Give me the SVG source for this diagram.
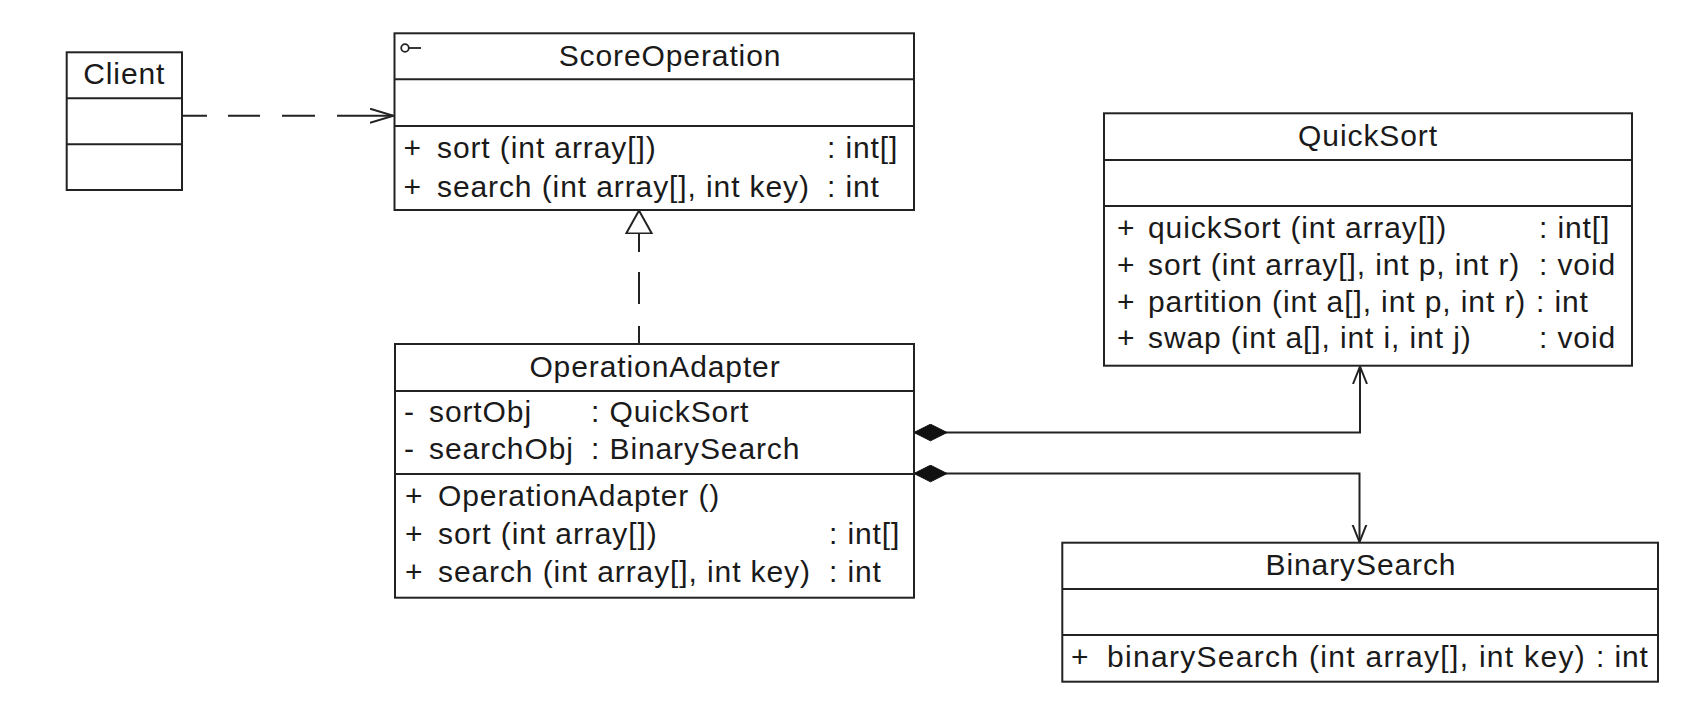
<svg xmlns="http://www.w3.org/2000/svg" width="1684" height="704" viewBox="0 0 1684 704">
<style>
  .box{fill:#fff;stroke:#222;stroke-width:2}
  .div{stroke:#222;stroke-width:2}
  text{font-family:"Liberation Sans",Arial,sans-serif;font-size:30px;letter-spacing:0.9px;fill:#1a1a1a}
  .t{text-anchor:middle}
  .wide{letter-spacing:1.3px}
  .conn{fill:none;stroke:#222;stroke-width:2}
</style>
<defs>
  <marker id="depArrow" markerUnits="userSpaceOnUse" markerWidth="26" markerHeight="18" refX="23.5" refY="8" orient="auto" viewBox="0 0 26 18">
    <path d="M0 1 L23.5 8 L0 15" fill="none" stroke="#222" stroke-width="2"/>
  </marker>
  <marker id="navArrow" markerUnits="userSpaceOnUse" markerWidth="20" markerHeight="18" refX="17.5" refY="8" orient="auto" viewBox="0 0 20 18">
    <path d="M0 1 L17.5 8 L0 15" fill="none" stroke="#222" stroke-width="2"/>
  </marker>
  <marker id="realize" markerUnits="userSpaceOnUse" markerWidth="26" markerHeight="30" refX="23.5" refY="14" orient="auto" viewBox="0 0 26 30">
    <path d="M0.5 1.2 L23.5 14 L0.5 26.8 Z" fill="#fff" stroke="#222" stroke-width="2"/>
  </marker>
  <marker id="diamond" markerUnits="userSpaceOnUse" markerWidth="36" markerHeight="20" refX="0" refY="9" orient="auto" viewBox="0 0 36 20">
    <path d="M0 9 L16.5 0.7 L33 9 L16.5 17.3 Z" fill="#111" stroke="#111" stroke-width="1"/>
  </marker>
</defs>
<rect width="1684" height="704" fill="#fff"/>

<g id="connectors">
  <path class="conn" d="M183 115.7 H393.5" stroke-dasharray="24 21 32 22 33 22 80" marker-end="url(#depArrow)"/>
  <path class="conn" d="M639 344 V210.5" stroke-dasharray="18 22 32 20 80" marker-end="url(#realize)"/>
  <path class="conn" d="M914 432.5 H1360 V366.5" marker-start="url(#diamond)" marker-end="url(#navArrow)"/>
  <path class="conn" d="M914 473.5 H1359.5 V542" marker-start="url(#diamond)" marker-end="url(#navArrow)"/>
</g>

<g id="Client">
  <rect class="box" x="66.7" y="52.3" width="115.3" height="137.7"/>
  <line class="div" x1="66.7" y1="98.3" x2="182" y2="98.3"/>
  <line class="div" x1="66.7" y1="144.3" x2="182" y2="144.3"/>
  <text class="t" x="124.3" y="84">Client</text>
</g>

<g id="ScoreOperation">
  <rect class="box" x="394.5" y="33.3" width="519.5" height="176.7"/>
  <line class="div" x1="394.5" y1="79.3" x2="914" y2="79.3"/>
  <line class="div" x1="394.5" y1="126" x2="914" y2="126"/>
  <circle cx="405" cy="48" r="3.8" fill="none" stroke="#222" stroke-width="1.8"/>
  <line x1="408.8" y1="48" x2="421" y2="48" stroke="#222" stroke-width="1.8"/>
  <text class="t" x="670" y="65.7">ScoreOperation</text>
  <text x="403.5" y="158">+</text>
  <text x="437" y="158">sort (int array[])</text>
  <text x="827" y="158">: int[]</text>
  <text x="403.5" y="196.5">+</text>
  <text x="437" y="196.5">search (int array[], int key)</text>
  <text x="827" y="196.5">: int</text>
</g>

<g id="OperationAdapter">
  <rect class="box" x="395" y="344" width="519" height="253.7"/>
  <line class="div" x1="395" y1="391" x2="914" y2="391"/>
  <line class="div" x1="395" y1="474" x2="914" y2="474"/>
  <text class="t" x="655" y="376.7">OperationAdapter</text>
  <text x="404" y="421.7">-</text>
  <text x="429" y="421.7">sortObj</text>
  <text x="591" y="421.7">: QuickSort</text>
  <text x="404" y="459">-</text>
  <text x="429" y="459">searchObj</text>
  <text x="591" y="459">: BinarySearch</text>
  <text x="405" y="505.5">+</text>
  <text x="438" y="505.5">OperationAdapter ()</text>
  <text x="405" y="543.5">+</text>
  <text x="438" y="543.5">sort (int array[])</text>
  <text x="829" y="543.5">: int[]</text>
  <text x="405" y="581.7">+</text>
  <text x="438" y="581.7">search (int array[], int key)</text>
  <text x="829" y="581.7">: int</text>
</g>

<g id="QuickSort">
  <rect class="box" x="1104" y="113.3" width="528" height="252.4"/>
  <line class="div" x1="1104" y1="160" x2="1632" y2="160"/>
  <line class="div" x1="1104" y1="206" x2="1632" y2="206"/>
  <text class="t" x="1368" y="145.7">QuickSort</text>
  <text x="1117" y="238.3">+</text>
  <text x="1148" y="238.3">quickSort (int array[])</text>
  <text x="1539" y="238.3">: int[]</text>
  <text x="1117" y="275">+</text>
  <text x="1148" y="275">sort (int array[], int p, int r)</text>
  <text x="1539" y="275">: void</text>
  <text x="1117" y="311.7">+</text>
  <text x="1148" y="311.7">partition (int a[], int p, int r)</text>
  <text x="1536" y="311.7">: int</text>
  <text x="1117" y="348.3">+</text>
  <text x="1148" y="348.3">swap (int a[], int i, int j)</text>
  <text x="1539" y="348.3">: void</text>
</g>

<g id="BinarySearch">
  <rect class="box" x="1062.3" y="542.7" width="595.7" height="139"/>
  <line class="div" x1="1062.3" y1="589" x2="1658" y2="589"/>
  <line class="div" x1="1062.3" y1="635" x2="1658" y2="635"/>
  <text class="t" x="1361" y="575">BinarySearch</text>
  <text x="1071" y="667">+</text>
  <text class="wide" x="1107" y="667">binarySearch (int array[], int key)</text>
  <text x="1596" y="667">: int</text>
</g>
</svg>
